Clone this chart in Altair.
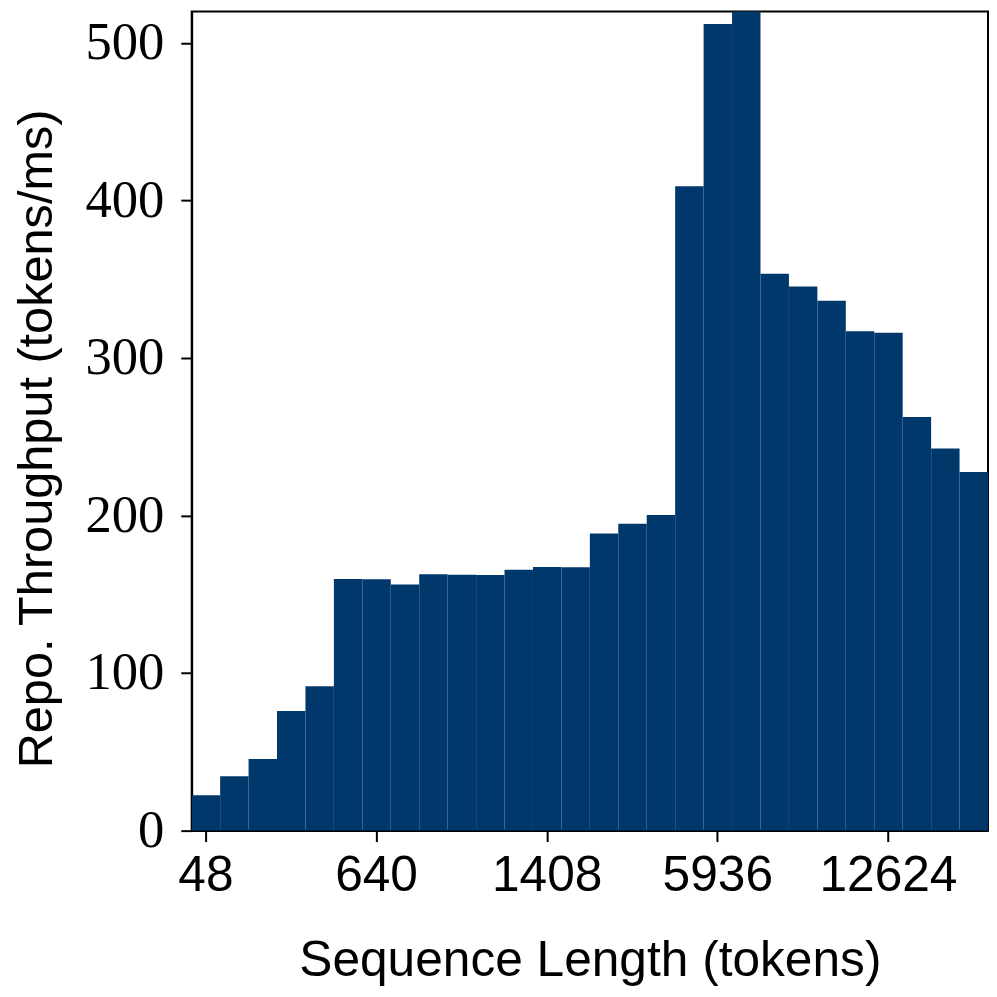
import altair as alt
import pandas as pd

# ---- data ----
bin_index = list(range(28))
throughput = [22.5, 34.5, 45.5, 76.0, 91.7, 159.8, 159.5, 156.2, 162.7, 162.5,
              162.3, 165.6, 167.3, 167.2, 188.6, 194.8, 200.3, 409.0, 512.0, 560.0,
              353.5, 345.4, 336.4, 317.0, 316.0, 262.6, 242.5, 227.7]
tick_positions = [0, 6, 12, 18, 24]
tick_labels = ["48", "640", "1408", "5936", "12624"]
y_ticks = [0, 100, 200, 300, 400, 500]

df = pd.DataFrame({"idx": bin_index, "throughput": throughput})

label_expr = " : ".join(
    f"datum.value == {p} ? '{l}'" for p, l in zip(tick_positions, tick_labels)
) + " : ''"

chart = alt.Chart(df).mark_bar(color="#00386B", clip=True).encode(
    x=alt.X(
        "idx:O",
        scale=alt.Scale(paddingInner=0, paddingOuter=0),
        axis=alt.Axis(
            values=tick_positions,
            labelExpr=label_expr,
            labelAngle=0,
            labelFont="Liberation Sans",
            labelFontSize=50,
            labelPadding=9,
            title="Sequence Length (tokens)",
            titleFont="Liberation Sans",
            titleFontSize=50,
            titleFontWeight="normal",
            titleBaseline="alphabetic",
            titleY=146,
            titleX=401,
        ),
    ),
    y=alt.Y(
        "throughput:Q",
        scale=alt.Scale(domain=[0, 520], nice=False, zero=True),
        axis=alt.Axis(
            values=y_ticks,
            labelFont="Liberation Serif",
            labelFontSize=53,
            labelPadding=17,
            title="Repo. Throughput (tokens/ms)",
            titleFont="Liberation Sans",
            titleFontSize=49,
            titleFontWeight="normal",
            titleAngle=-90,
            titleAlign="center",
            titleBaseline="middle",
            titleX=-156,
            titleY=430,
        ),
    ),
).properties(
    width=802,
    height=825,
    autosize=alt.AutoSizeParams(type="none"),
    padding={"left": 185, "top": 0, "right": 1, "bottom": 156},
).configure_view(
    stroke="black", strokeWidth=2
).configure_axis(
    grid=False,
    domainColor="black",
    domainWidth=2,
    tickColor="black",
    tickWidth=2,
    tickSize=11,
    labelColor="black",
    titleColor="black",
)

chart.save("out.html", embed_options={"renderer": "svg", "actions": False})
